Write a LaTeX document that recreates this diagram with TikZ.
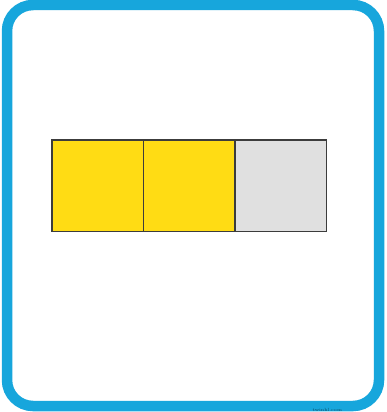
\documentclass[tikz,border=0pt]{standalone}
\usepackage{tikz}
\usetikzlibrary{positioning}

\definecolor{cardblue}{HTML}{17A6DC}
\definecolor{partyellow}{HTML}{FFDC14}
\definecolor{partgray}{HTML}{E0E0E0}
\definecolor{edgegray}{HTML}{3C3C3C}

\begin{document}
\begin{tikzpicture}[
    x=1pt, y=-1pt,
    node distance=0pt,
    card/.style={rectangle, rounded corners=26pt, draw=cardblue, line width=10.5pt, fill=white, minimum width=372pt, minimum height=401pt},
    part/.style={rectangle, draw=edgegray, line width=1.2pt, outer sep=0pt, minimum width=91.5pt, minimum height=91.5pt, inner sep=0pt},
    shaded/.style={part, fill=partyellow},
    blank/.style={part, fill=partgray}
]
\useasboundingbox (0,0) rectangle (386,412);

% Frame
\node[card] (card) at (193,205.5) {};

% Bar of three parts
\node[shaded] (first) at (97.75,185.75) {};
\node[shaded, right=of first] (second) {};
\node[blank, right=of second] (third) {};

% Watermark
\node[font=\fontsize{4.5}{5}\selectfont, text=cardblue!45!black, inner sep=0pt] (mark) at ([xshift=-57pt, yshift=1pt]card.south east) {twinkl.com};

\end{tikzpicture}
\end{document}
